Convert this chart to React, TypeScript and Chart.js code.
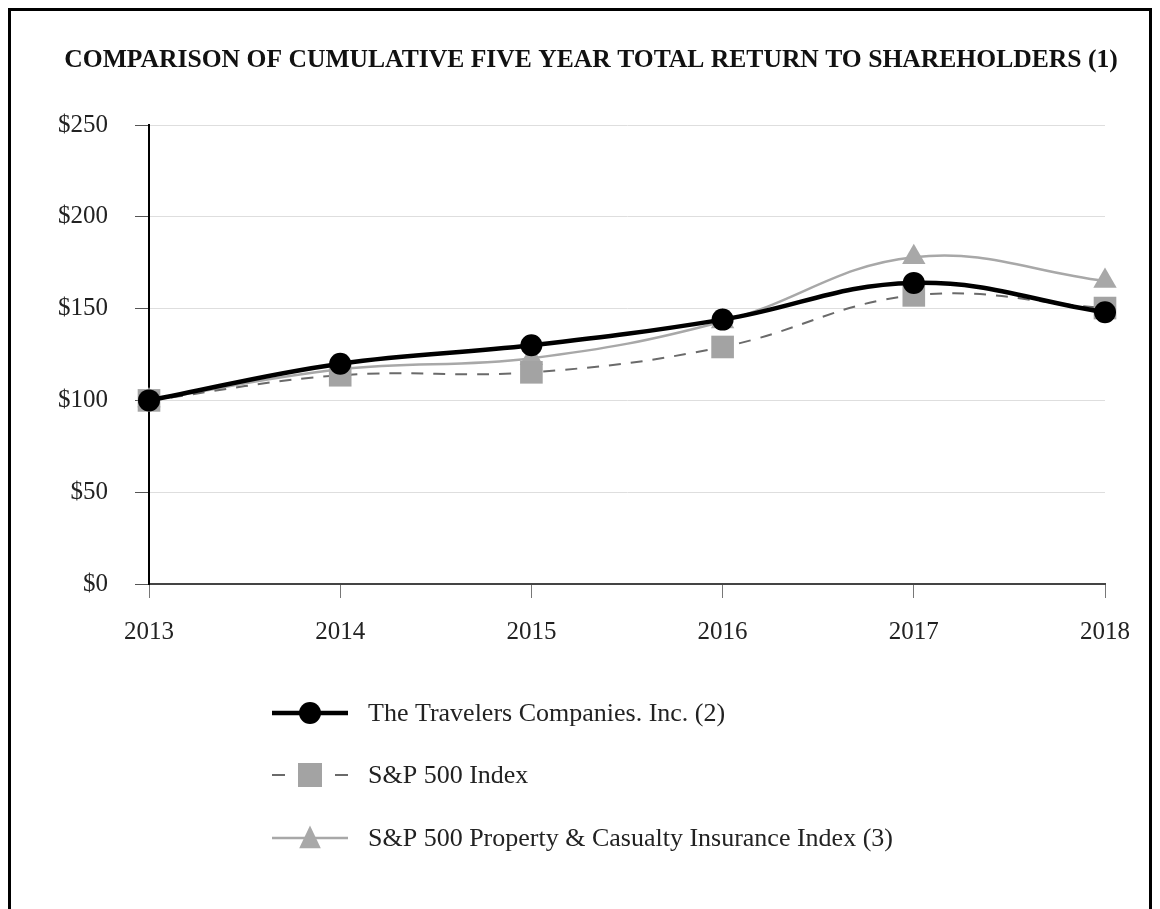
import React, { useEffect, useRef } from "react";
import { Chart, registerables } from "chart.js";

Chart.register(...registerables);

const TITLE = "COMPARISON OF CUMULATIVE FIVE YEAR TOTAL RETURN TO SHAREHOLDERS (1)";
const years = ["2013", "2014", "2015", "2016", "2017", "2018"];
const travelers = [100, 120, 130, 144, 164, 148];
const sp500 = [100, 113.7, 115.3, 129.1, 157.2, 150.3];
const spPC = [100, 117, 123, 143, 178, 165];
const seriesNames = [
  "The Travelers Companies. Inc. (2)",
  "S&P 500 Index",
  "S&P 500 Property & Casualty Insurance Index (3)",
];
const yTicks = [0, 50, 100, 150, 200, 250];

const FONT = "'Liberation Serif', 'Times New Roman', serif";

const overlayPlugin = {
  id: "overlay",
  afterDraw(chart: any) {
    const ctx = chart.ctx as CanvasRenderingContext2D;
    ctx.save();
    // title
    ctx.fillStyle = "#111";
    ctx.font = `bold 25.6px ${FONT}`;
    ctx.textAlign = "center";
    ctx.textBaseline = "middle";
    ctx.fillText(TITLE, 580, 49);

    // legend
    const rows = [702, 764, 827];
    const x0 = 261, x1 = 337, xm = 299, xt = 357;
    chart.data.datasets.forEach((ds: any, i: number) => {
      const y = rows[i];
      ctx.save();
      ctx.strokeStyle = ds.borderColor;
      ctx.lineWidth = ds.borderWidth;
      if (ds.borderDash && ds.borderDash.length) ctx.setLineDash([13, 50]);
      ctx.beginPath();
      ctx.moveTo(x0, y);
      ctx.lineTo(x1, y);
      ctx.stroke();
      ctx.setLineDash([]);
      ctx.restore();
      const r = ds.legendRadius;
      ctx.fillStyle = ds.pointBackgroundColor;
      ctx.beginPath();
      if (ds.pointStyle === "circle") {
        ctx.arc(xm, y, r, 0, Math.PI * 2);
      } else if (ds.pointStyle === "rect") {
        ctx.rect(xm - r, y - r, 2 * r, 2 * r);
      } else {
        ctx.moveTo(xm, y - r * 1.05);
        ctx.lineTo(xm + r * 0.9, y + r * 0.85);
        ctx.lineTo(xm - r * 0.9, y + r * 0.85);
        ctx.closePath();
      }
      ctx.fill();
      ctx.fillStyle = "#222";
      ctx.font = `26px ${FONT}`;
      ctx.textAlign = "left";
      ctx.textBaseline = "middle";
      ctx.fillText(seriesNames[i], xt, y + 1);
    });
    ctx.restore();
  },
};

export default function App() {
  const ref = useRef<HTMLCanvasElement | null>(null);
  useEffect(() => {
    if (!ref.current) return;
    const chart = new Chart(ref.current, {
      type: "line",
      data: {
        labels: years,
        datasets: [
          {
            label: seriesNames[0],
            data: travelers,
            borderColor: "#000",
            borderWidth: 4.5,
            pointStyle: "circle",
            pointRadius: 11,
            pointBackgroundColor: "#000",
            pointBorderColor: "#000",
            pointBorderWidth: 0,
            tension: 0.4,
            legendRadius: 11,
          } as any,
          {
            label: seriesNames[1],
            data: sp500,
            borderColor: "#6a6a6a",
            borderWidth: 2,
            borderDash: [12, 10],
            pointStyle: "rect",
            pointRadius: 16,
            pointBackgroundColor: "#a3a3a3",
            pointBorderColor: "#a3a3a3",
            pointBorderWidth: 0,
            tension: 0.4,
            legendRadius: 12,
          } as any,
          {
            label: seriesNames[2],
            data: spPC,
            borderColor: "#a8a8a8",
            borderWidth: 2.5,
            pointStyle: "triangle",
            pointRadius: 13.5,
            pointBackgroundColor: "#a8a8a8",
            pointBorderColor: "#a8a8a8",
            pointBorderWidth: 0,
            tension: 0.4,
            legendRadius: 12,
          } as any,
        ],
      },
      options: {
        animation: false,
        responsive: true,
        maintainAspectRatio: false,
        layout: { padding: { top: 114, left: 0, right: 44, bottom: 267 } },
        plugins: {
          legend: { display: false },
          title: { display: false },
          tooltip: { enabled: false },
        },
        scales: {
          x: {
            type: "category",
            offset: false,
            grid: {
              display: true,
              drawOnChartArea: false,
              tickLength: 14,
              tickColor: "#777",
            },
            border: { display: true, color: "#444", width: 2 },
            ticks: {
              color: "#222",
              font: { family: FONT, size: 25 },
              padding: 19,
              maxRotation: 0,
            },
            afterFit(scale: any) {
              scale.height = 60;
            },
          },
          y: {
            min: 0,
            max: 250,
            afterBuildTicks(scale: any) {
              scale.ticks = yTicks.map((v) => ({ value: v }));
            },
            grid: {
              color: "#dedede",
              lineWidth: 1,
              tickLength: 14,
              tickColor: "#555",
            },
            border: { display: true, color: "#000", width: 2 },
            ticks: {
              color: "#222",
              font: { family: FONT, size: 25 },
              padding: 27,
              callback: (v: any) => `$${v}`,
            },
            afterFit(scale: any) {
              scale.width = 138;
            },
          },
        },
      },
      plugins: [overlayPlugin],
    });
    return () => chart.destroy();
  }, []);
  return (
    <div
      style={{
        border: "3px solid #000",
        width: 1138,
        height: 900,
        position: "relative",
        background: "#fff",
      }}
    >
      <div style={{ position: "relative", width: 1138, height: 900 }}>
        <canvas ref={ref} />
      </div>
    </div>
  );
}
